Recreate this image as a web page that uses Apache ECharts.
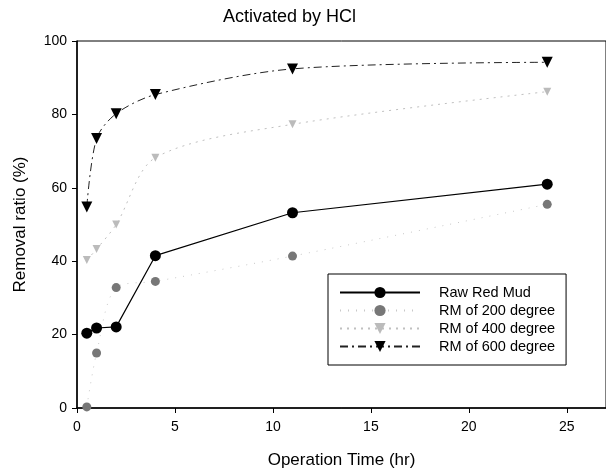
<!DOCTYPE html>
<html><head><meta charset="utf-8">
<script src="https://cdn.jsdelivr.net/npm/echarts@6/dist/echarts.min.js"></script>
<style>html,body{margin:0;padding:0;background:#fff}#c{width:606px;height:474px}</style>
</head><body><div id="c"></div>
<script>
const times = [0.5, 1, 2, 4, 11, 24];
const rawRedMud = [20.4, 21.8, 22.1, 41.5, 53.2, 61.0];
const rm200 = [0.3, 15.0, 32.8, 34.5, 41.4, 55.5];
const rm400 = [40.3, 43.3, 50.0, 68.2, 77.3, 86.2];
const rm600 = [54.8, 73.4, 80.2, 85.4, 92.4, 94.2];
const seriesNames = ['Raw Red Mud', 'RM of 200 degree', 'RM of 400 degree', 'RM of 600 degree'];
const pair = arr => times.map((t, i) => [t, arr[i]]);
const font = 'Liberation Sans, Arial, sans-serif';
const chart = echarts.init(document.getElementById('c'), null, {renderer: 'canvas'});
chart.setOption({
  animation: false,
  backgroundColor: '#fff',
  title: {text: 'Activated by HCl', left: 218, top: 3,
    textStyle: {fontFamily: font, fontSize: 18, fontWeight: 'normal', color: '#000'}},
  grid: {left: 77, right: 0, top: 41, bottom: 64, show: true, borderColor: '#000', borderWidth: 1, containLabel: false},
  legend: {
    orient: 'vertical', left: 328, top: 274,
    borderColor: '#000', borderWidth: 1, padding: [11, 11, 11, 11],
    itemWidth: 80, itemHeight: 14, itemGap: 3,
    textStyle: {fontFamily: font, fontSize: 14.5, color: '#000', padding: [0, 0, 0, 14]},
    data: seriesNames
  },
  xAxis: {
    type: 'value', min: 0, max: 27, interval: 5,
    name: 'Operation Time (hr)', nameLocation: 'middle', nameGap: 44,
    nameTextStyle: {fontFamily: font, fontSize: 17, color: '#000'},
    axisLine: {show: true, lineStyle: {color: '#000', width: 1.5}},
    axisTick: {show: true, inside: false, length: 5, lineStyle: {color: '#000'}},
    axisLabel: {fontFamily: font, fontSize: 14, color: '#000', margin: 12, showMaxLabel: false,
      formatter: v => (v % 5 === 0 ? String(v) : '')},
    splitLine: {show: false}
  },
  yAxis: {
    type: 'value', min: 0, max: 100, interval: 20,
    name: 'Removal ratio (%)', nameLocation: 'middle', nameGap: 48,
    nameTextStyle: {fontFamily: font, fontSize: 17, color: '#000'},
    axisLine: {show: true, lineStyle: {color: '#000', width: 1.5}},
    axisTick: {show: true, inside: false, length: 5, lineStyle: {color: '#000'}},
    axisLabel: {fontFamily: font, fontSize: 14, color: '#000', margin: 10},
    splitLine: {show: false}
  },
  series: [
    {name: seriesNames[0], type: 'line', data: pair(rawRedMud), symbol: 'circle', symbolSize: 11,
      itemStyle: {color: '#000'}, lineStyle: {color: '#000', width: 1.2}, z: 5},
    {name: seriesNames[1], type: 'line', data: pair(rm200), symbol: 'circle', symbolSize: 9, smooth: 0.3,
      itemStyle: {color: '#777'}, lineStyle: {color: '#c8c8c8', width: 1, type: [1, 7]}},
    {name: seriesNames[2], type: 'line', data: pair(rm400), symbol: 'triangle', symbolRotate: 180, symbolSize: 8, smooth: 0.3,
      itemStyle: {color: '#bbb'}, lineStyle: {color: '#c0c0c0', width: 1, type: [2, 5]}},
    {name: seriesNames[3], type: 'line', data: pair(rm600), symbol: 'triangle', symbolRotate: 180, symbolSize: 11, smooth: 0.3,
      itemStyle: {color: '#000'}, lineStyle: {color: '#222', width: 1, type: [8, 4, 2, 4]}}
  ]
});
</script></body></html>
